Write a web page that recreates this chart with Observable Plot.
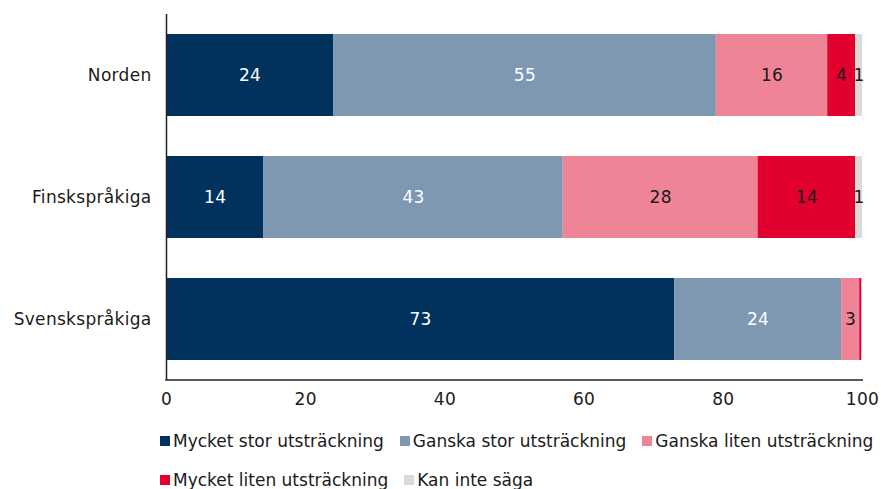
<!DOCTYPE html>
<html>
<head>
<meta charset="utf-8">
<script src="https://cdn.jsdelivr.net/npm/d3@7"></script>
<script src="https://cdn.jsdelivr.net/npm/@observablehq/plot@0.6"></script>
<style>
  html, body { margin: 0; padding: 0; background: #fff; }
  body { width: 881px; height: 489px; overflow: hidden; font-family: "DejaVu Sans", sans-serif; }
  svg text { letter-spacing: 0.3px; }
  #legend { position: relative; height: 74px; font-size: 17px; color: #1a1a1a; }
  .row { position: absolute; left: 160px; display: flex; gap: 16px; white-space: nowrap; }
  .item { display: flex; align-items: center; }
  .sw { width: 10px; height: 10px; margin-right: 3px; }
</style>
</head>
<body>
<div id="chart"></div>
<div id="legend"></div>
<script>
const groups = ["Norden", "Finskspråkiga", "Svenskspråkiga"];
const series = ["Mycket stor utsträckning", "Ganska stor utsträckning", "Ganska liten utsträckning", "Mycket liten utsträckning", "Kan inte säga"];
const colors = ["#01325e", "#7e98b1", "#ef8497", "#e2002f", "#dadada"];
const textColors = ["#ffffff", "#ffffff", "#1a1a1a", "#1a1a1a", "#1a1a1a"];
const norden = [24, 55, 16, 4, 1];
const finsk = [14, 43, 28, 14, 1];
const svensk = [73, 24, 2.6, 0.3, 0];
const xTicks = [0, 20, 40, 60, 80, 100];

const values = [norden, finsk, svensk];
const data = [];
groups.forEach((g, gi) => series.forEach((s, si) => data.push({group: g, series: s, value: values[gi][si]})));

const chart = Plot.plot({
  width: 881,
  height: 415,
  marginLeft: 166,
  marginRight: 19,
  marginTop: 14,
  marginBottom: 35,
  style: {fontFamily: '"DejaVu Sans", sans-serif', fontSize: "17px", color: "#1a1a1a"},
  x: {domain: [0, 100], ticks: xTicks, tickSize: 0, tickPadding: 12, label: null},
  y: {domain: groups, paddingInner: 0.33, paddingOuter: 0.165, tickSize: 0, tickPadding: 15, label: null},
  color: {domain: series, range: colors},
  marks: [
    Plot.barX(data, Plot.stackX({x: "value", y: "group", fill: "series", order: series})),
    Plot.text(data.filter(d => d.value >= 0.5), Plot.stackX({
      x: "value", y: "group", z: "series", order: series,
      text: d => String(Math.round(d.value)),
      fill: d => textColors[series.indexOf(d.series)],
      fontSize: 17
    })),
    Plot.ruleX([0], {stroke: "#222", strokeWidth: 1.5})
  ]
});
document.getElementById("chart").appendChild(chart);

// bottom axis line along the frame
const xs = chart.scale("x");
d3.select(chart).append("line")
  .attr("x1", xs.range[0] - 0.75).attr("x2", xs.range[1] + 1)
  .attr("y1", 380).attr("y2", 380)
  .attr("stroke", "#222").attr("stroke-width", 1.5);

// legend
const legend = document.getElementById("legend");
const rows = [[0, 1, 2], [3, 4]];
rows.forEach((r, ri) => {
  const row = document.createElement("div");
  row.className = "row";
  row.style.top = (ri === 0 ? 16 : 55) + "px";
  r.forEach(i => {
    const it = document.createElement("div");
    it.className = "item";
    it.innerHTML = `<span class="sw" style="background:${colors[i]}"></span><span>${series[i]}</span>`;
    row.appendChild(it);
  });
  legend.appendChild(row);
});
</script>
</body>
</html>
